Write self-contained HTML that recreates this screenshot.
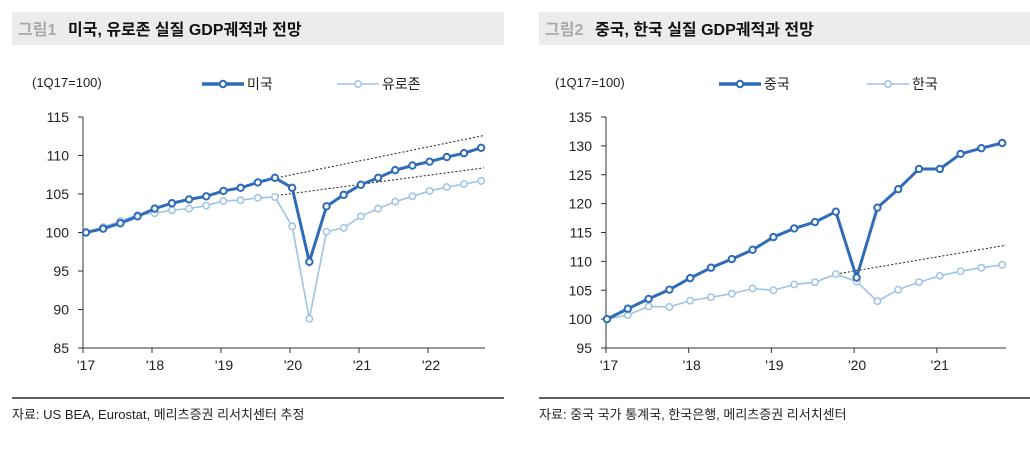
<!DOCTYPE html>
<html><head><meta charset="utf-8"><style>
body{margin:0;background:#fff;width:1030px;height:446px;overflow:hidden;font-family:"Liberation Sans","Noto Sans CJK KR",sans-serif;}
</style></head><body>
<svg width="1030" height="446" xmlns="http://www.w3.org/2000/svg" font-family="Liberation Sans, Noto Sans CJK KR, sans-serif">
<rect x="12" y="12" width="492" height="33" fill="#ececec"/>
<rect x="539" y="12" width="491" height="33" fill="#ececec"/>
<text x="18" y="35" font-size="16" fill="#aaa" font-weight="bold">그림1</text>
<text x="68" y="35" font-size="16" fill="#111" font-weight="bold">미국, 유로존 실질 GDP궤적과 전망</text>
<text x="545" y="35" font-size="16" fill="#aaa" font-weight="bold">그림2</text>
<text x="595" y="35" font-size="16" fill="#111" font-weight="bold">중국, 한국 실질 GDP궤적과 전망</text>
<line x1="12" y1="398" x2="504" y2="398" stroke="#000" stroke-width="1.3"/>
<line x1="539" y1="398" x2="1030" y2="398" stroke="#000" stroke-width="1.3"/>
<text x="12" y="419" font-size="13" fill="#222">자료: US BEA, Eurostat, 메리츠증권 리서치센터 추정</text>
<text x="539" y="419" font-size="13" fill="#222">자료: 중국 국가 통계국, 한국은행, 메리츠증권 리서치센터</text>
<g id="c1" font-size="14" fill="#222"></g>
<g id="c2" font-size="14" fill="#222"></g>
</svg>
<script>
const NS="http://www.w3.org/2000/svg";
function el(p,t,a,txt){const e=document.createElementNS(NS,t);for(const k in a)e.setAttribute(k,a[k]);if(txt)e.textContent=txt;p.appendChild(e);return e;}
function chart(g,o){
 const Y=v=>o.yb-(v-o.ymin)*(o.yb-o.yt)/(o.ymax-o.ymin);
 el(g,'text',{x:o.ax-51,y:87,'font-size':13},'(1Q17=100)');
 for(let v=o.ymin;v<=o.ymax;v+=5){el(g,'line',{x1:o.ax-5,x2:o.ax,y1:Y(v),y2:Y(v),stroke:'#333'});el(g,'text',{x:o.ax-14,y:Y(v)+5,'text-anchor':'end'},v);}
 el(g,'line',{x1:o.ax,x2:o.ax,y1:o.yt,y2:o.yb,stroke:'#333'});
 el(g,'line',{x1:o.ax,x2:o.xr,y1:o.yb,y2:o.yb,stroke:'#333'});
 o.years.forEach((y,i)=>{const x=o.ax+i*o.yw;el(g,'line',{x1:x,x2:x,y1:o.yb,y2:o.yb+5,stroke:'#333'});el(g,'text',{x:x+3,y:o.yb+22,'text-anchor':'middle'},"'"+y);});
 o.dots.forEach(d=>el(g,'line',{x1:d[0],y1:Y(d[1]),x2:d[2],y2:Y(d[3]),stroke:'#222','stroke-width':1,'stroke-dasharray':'2,2'}));
 const X=i=>o.x0+i*o.qw;
 [[o.s2,'#9dc3e6',1.6],[o.s1,'#2e6bb8',3]].forEach(([s,c,w])=>{
  el(g,'polyline',{points:s.map((v,i)=>X(i)+','+Y(v)).join(' '),fill:'none',stroke:c,'stroke-width':w});
  s.forEach((v,i)=>el(g,'circle',{cx:X(i),cy:Y(v),r:3.2,fill:'#fff',stroke:c,'stroke-width':w>2?2:1.5}));
 });
 el(g,'line',{x1:o.lx,x2:o.lx+42,y1:84,y2:84,stroke:'#2e6bb8','stroke-width':3.5});
 el(g,'circle',{cx:o.lx+21,cy:84,r:3.2,fill:'#fff',stroke:'#2e6bb8','stroke-width':2});
 el(g,'text',{x:o.lx+45,y:89},o.n1);
 el(g,'line',{x1:o.lx2,x2:o.lx2+42,y1:84,y2:84,stroke:'#9dc3e6','stroke-width':1.6});
 el(g,'circle',{cx:o.lx2+21,cy:84,r:3.2,fill:'#fff',stroke:'#9dc3e6','stroke-width':1.5});
 el(g,'text',{x:o.lx2+45,y:89},o.n2);
}
chart(document.getElementById('c1'),{ax:83,xr:485,yt:117,yb:348,ymin:85,ymax:115,yw:69,x0:86,qw:17.18,years:[17,18,19,20,21,22],
 s1:[100,100.5,101.2,102.1,103.1,103.8,104.3,104.7,105.4,105.8,106.5,107.1,105.8,96.2,103.4,104.9,106.2,107.1,108.1,108.7,109.2,109.8,110.3,111],
 s2:[100,100.7,101.5,102.3,102.5,102.9,103.1,103.5,104.1,104.2,104.5,104.6,100.8,88.8,100.1,100.6,102.1,103.1,104.0,104.7,105.4,105.9,106.3,106.7],
 dots:[[277,107.1,484,112.6],[277,104.8,484,108.4]],lx:202,lx2:337,n1:'미국',n2:'유로존'});
chart(document.getElementById('c2'),{ax:606,xr:1006,yt:117,yb:348,ymin:95,ymax:135,yw:82.7,x0:607,qw:20.8,years:[17,18,19,20,21],
 s1:[100,101.8,103.5,105.1,107.1,108.9,110.4,112,114.2,115.7,116.8,118.6,107.2,119.3,122.5,126,126,128.6,129.6,130.5],
 s2:[100,100.7,102.2,102.1,103.2,103.8,104.4,105.3,105,106,106.4,107.8,106.5,103.1,105.1,106.4,107.5,108.3,108.9,109.4],
 dots:[[836,107.8,1006,112.8]],lx:719,lx2:867,n1:'중국',n2:'한국'});
</script>
</body></html>
